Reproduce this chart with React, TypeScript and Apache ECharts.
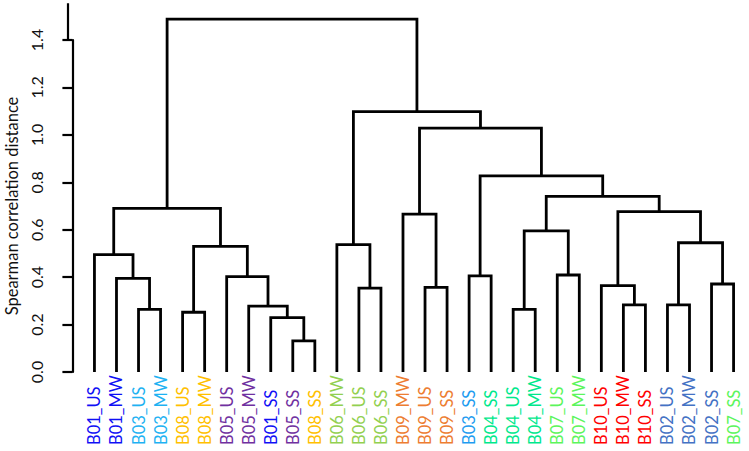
import React, { useEffect, useRef } from "react";
import * as echarts from "echarts";

// Leaves in dendrogram order
const leafLabels = [
  "B01_US", "B01_MW", "B03_US", "B03_MW", "B08_US", "B08_MW", "B05_US", "B05_MW",
  "B01_SS", "B05_SS", "B08_SS", "B06_MW", "B06_US", "B06_SS", "B09_MW", "B09_US",
  "B09_SS", "B03_SS", "B04_SS", "B04_US", "B04_MW", "B07_US", "B07_MW", "B10_US",
  "B10_MW", "B10_SS", "B02_US", "B02_MW", "B02_SS", "B07_SS",
];
const leafColors = [
  "#1010F5", "#1010F5", "#1EB2F2", "#1EB2F2", "#FFC000", "#FFC000", "#7030A0", "#7030A0",
  "#1010F5", "#7030A0", "#FFC000", "#92D050", "#92D050", "#92D050", "#ED7D31", "#ED7D31",
  "#ED7D31", "#1E9CF0", "#00E88C", "#00E88C", "#00E88C", "#5CF55C", "#5CF55C", "#FF0000",
  "#FF0000", "#FF0000", "#4472C4", "#4472C4", "#4472C4", "#5CF55C",
];
// Merge steps: negative = leaf (1-based), positive = earlier merge (1-based)
const mergeLeft = [-3, -2, -1, -5, -10, -9, -8, -7, 4, 3, -13, -12, -16, -15, -18, -20, -22, 16, -25, -24, -27, -29, 21, 20, 18, 15, 14, 12, 10];
const mergeRight = [-4, 1, 2, -6, -11, 5, 6, 7, 8, 9, -14, 11, -17, 13, -19, -21, -23, 17, -26, 19, -28, -30, 22, 23, 24, 25, 26, 27, 28];
const mergeHeight = [
  0.264, 0.395, 0.495, 0.252, 0.131, 0.229, 0.278, 0.402, 0.530, 0.690,
  0.354, 0.537, 0.357, 0.666, 0.405, 0.264, 0.409, 0.595, 0.283, 0.364,
  0.283, 0.371, 0.545, 0.676, 0.741, 0.827, 1.028, 1.098, 1.488,
];
const yTicks = [0, 0.2, 0.4, 0.6, 0.8, 1.0, 1.2, 1.4];
const yAxisTitle = "Spearman correlation distance";

const X_MIN = -0.2;
const X_MAX = 30.7;
const Y_MAX = yTicks[yTicks.length - 1];
const AXIS_TOP = 1.555;

function buildSegments() {
  const mx: number[] = [];
  const pos = (ref: number): [number, number] =>
    ref < 0 ? [-ref, 0] : [mx[ref - 1], mergeHeight[ref - 1]];
  const segs: number[][] = [];
  for (let i = 0; i < mergeLeft.length; i++) {
    const [xl, hl] = pos(mergeLeft[i]);
    const [xr, hr] = pos(mergeRight[i]);
    mx.push((xl + xr) / 2);
    segs.push([xl, hl, xr, hr, mergeHeight[i]]);
  }
  return segs;
}

export default function App() {
  const ref = useRef<HTMLDivElement>(null);
  useEffect(() => {
    if (!ref.current) return;
    const chart = echarts.init(ref.current, null, { renderer: "svg" });
    const segs = buildSegments();
    const font = "Lato, 'Open Sans', sans-serif";
    chart.setOption({
      animation: false,
      backgroundColor: "#ffffff",
      grid: { left: 68, top: 40, width: 681, height: 332, outerBoundsMode: "none", containLabel: false },
      xAxis: {
        type: "value",
        min: X_MIN,
        max: X_MAX,
        show: false,
      },
      yAxis: {
        type: "value",
        min: 0,
        max: Y_MAX,
        interval: 0.2,
        splitLine: { show: false },
        axisLine: { show: true, lineStyle: { color: "#000", width: 2.2 } },
        axisTick: { show: true, length: 10, lineStyle: { color: "#000", width: 2.2 } },
        axisLabel: {
          rotate: 90,
          margin: 24,
          color: "#111",
          fontFamily: font,
          fontSize: 16,
          formatter: (v: number) => v.toFixed(1),
        },
        name: yAxisTitle,
        nameLocation: "middle",
        nameRotate: 90,
        nameGap: 47,
        nameTextStyle: { color: "#111", fontFamily: font, fontSize: 16.5 },
      },
      series: [
        {
          type: "custom",
          clip: false,
          silent: true,
          data: segs,
          renderItem: (params: any, api: any) => {
            const xl = api.value(0), hl = api.value(1), xr = api.value(2), hr = api.value(3), h = api.value(4);
            const pts = [
              api.coord([xl, hl]),
              api.coord([xl, h]),
              api.coord([xr, h]),
              api.coord([xr, hr]),
            ];
            return {
              type: "polyline",
              shape: { points: pts },
              style: { stroke: "#000", lineWidth: 2.8, fill: null, lineJoin: "miter", lineCap: "butt" },
            };
          },
        },
        {
          type: "custom",
          clip: false,
          silent: true,
          data: [[X_MIN, Y_MAX, AXIS_TOP]],
          renderItem: (params: any, api: any) => {
            const a = api.coord([api.value(0), api.value(1)]);
            const b = api.coord([api.value(0), api.value(2)]);
            return {
              type: "line",
              shape: { x1: a[0], y1: a[1], x2: b[0], y2: b[1] },
              style: { stroke: "#000", lineWidth: 2.2 },
            };
          },
        },
        {
          type: "custom",
          clip: false,
          silent: true,
          data: leafLabels.map((_, i) => [i + 1, 0]),
          renderItem: (params: any, api: any) => {
            const p = api.coord([api.value(0), api.value(1)]);
            const i = params.dataIndex;
            return {
              type: "text",
              x: p[0],
              y: p[1] + 73,
              rotation: Math.PI / 2,
              style: {
                text: leafLabels[i],
                fill: leafColors[i],
                fontFamily: font,
                fontSize: 16.5,
                align: "left",
                verticalAlign: "middle",
              },
            };
          },
        },
      ],
    });
    return () => chart.dispose();
  }, []);
  return (
    <div
      ref={ref}
      style={{ position: "fixed", left: 0, top: 0, width: 749, height: 451 }}
    />
  );
}
